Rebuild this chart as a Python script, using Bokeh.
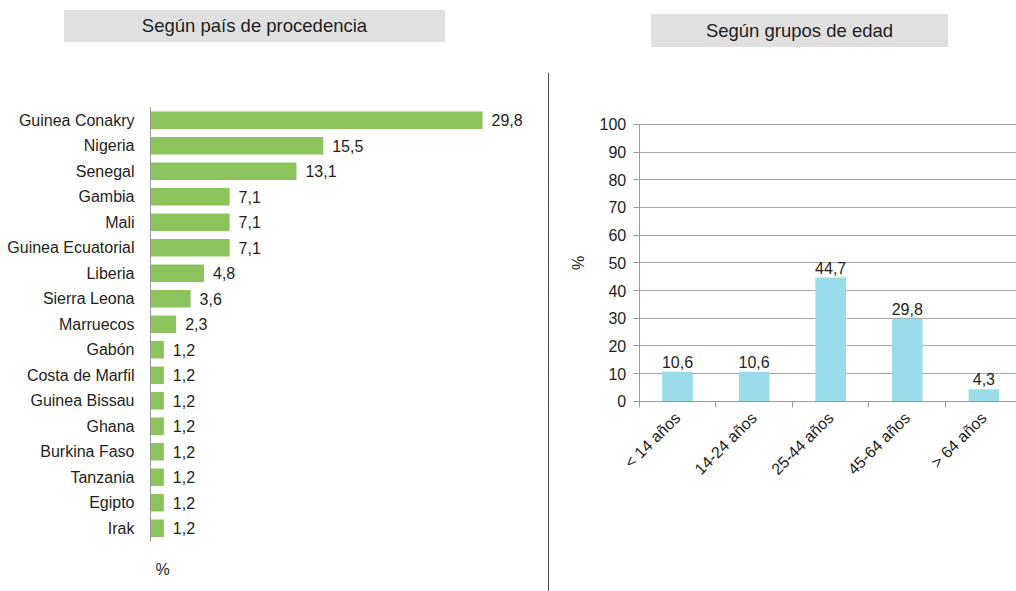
import math
from bokeh.plotting import figure
from bokeh.models import Range1d, FixedTicker, Div, Spacer, BoxAnnotation
from bokeh.layouts import row, column
from bokeh.core.properties import value
from bokeh.embed import file_html
from bokeh.resources import INLINE

# ---------------- data ----------------
left_title = "Según país de procedencia"
right_title = "Según grupos de edad"

countries = ["Guinea Conakry", "Nigeria", "Senegal", "Gambia", "Mali",
             "Guinea Ecuatorial", "Liberia", "Sierra Leona", "Marruecos",
             "Gabón", "Costa de Marfil", "Guinea Bissau", "Ghana",
             "Burkina Faso", "Tanzania", "Egipto", "Irak"]
country_pct = [29.8, 15.5, 13.1, 7.1, 7.1, 7.1, 4.8, 3.6, 2.3,
               1.2, 1.2, 1.2, 1.2, 1.2, 1.2, 1.2, 1.2]

age_groups = ["< 14 años", "14-24 años", "25-44 años", "45-64 años", "> 64 años"]
age_pct = [10.6, 10.6, 44.7, 29.8, 4.3]
age_ticks = [0, 10, 20, 30, 40, 50, 60, 70, 80, 90, 100]

FONT = "Liberation Sans"
TXT = "#1e1e1e"
AX = "#9a9a9a"
FS = "16px"

def fmt(v):
    return f"{v:.1f}".replace(".", ",")

# ---------------- header (title boxes) ----------------
def box(txt, w, h):
    html = (f'<div style="width:{w}px;height:{h}px;line-height:{h}px;'
            f'background:#e0e0e0;text-align:center;'
            f'font-family:\'Liberation Sans\',Arial,sans-serif;'
            f'font-size:18.5px;color:{TXT};white-space:nowrap;">{txt}</div>')
    return Div(text=html, width=w, height=h, margin=0)

hdr = row(
    Spacer(width=64, height=47, margin=0),
    column(Spacer(width=381, height=10, margin=0), box(left_title, 381, 32), spacing=0),
    Spacer(width=206, height=47, margin=0),
    column(Spacer(width=297, height=14, margin=0), box(right_title, 297, 33), spacing=0),
    spacing=0,
)

BODY_H = 544
BORDER_TOP = 60

# ---------------- left chart ----------------
n = len(countries)
ypos = [n - i - 0.5 for i in range(n)]          # row centres, first country on top
left = figure(width=548, height=BODY_H, title=None,
              x_range=Range1d(0, 35), y_range=Range1d(-1.98, n),
              x_axis_location=None,
              min_border_left=150, min_border_right=8,
              min_border_top=BORDER_TOP, min_border_bottom=0,
              outline_line_color=None, toolbar_location=None,
              output_backend="svg")
left.hbar(y=ypos, left=0, right=country_pct, height=0.68,
          fill_color="#8cc35c", line_color=None)
left.text(x=country_pct, y=ypos, text=[fmt(v) for v in country_pct],
          x_offset=9, text_align="left", text_baseline="middle",
          text_font=value(FONT), text_font_size=FS, text_color=TXT)
# axis title "%" under the bars
left.text(x=[0], y=[0], text=["%"], x_offset=5, y_offset=28,
          text_align="left", text_baseline="middle",
          text_font=value(FONT), text_font_size=FS, text_color=TXT)
left.xgrid.visible = False
left.ygrid.visible = False

ya = left.yaxis[0]
ya.ticker = FixedTicker(ticks=ypos)
ya.major_label_overrides = {y: c for y, c in zip(ypos, countries)}
ya.bounds = (0, n)
ya.axis_line_color = AX
ya.major_tick_line_color = None
ya.major_tick_out = 0
ya.major_tick_in = 0
ya.minor_tick_line_color = None
ya.major_label_standoff = 16
ya.major_label_text_font = FONT
ya.major_label_text_font_size = FS
ya.major_label_text_color = TXT

# ---------------- separator ----------------
sep = column(
    Spacer(width=1, height=26, margin=0),
    Div(text="", width=1, height=BODY_H - 26, margin=0,
        styles={"background-color": "#4a4a4a"}),
    spacing=0,
)

# ---------------- right chart ----------------
centers = [i + 0.5 for i in range(len(age_groups))]
X0, X1 = -1.171, 4.926
right = figure(width=467, height=BODY_H, title=None,
               x_range=Range1d(X0, X1), y_range=Range1d(-68.78, 106.14),
               min_border_left=0, min_border_right=0,
               min_border_top=BORDER_TOP, min_border_bottom=0,
               outline_line_color=None, toolbar_location=None,
               output_backend="svg")
right.xgrid.visible = False
right.ygrid.grid_line_color = "#a8a8a8"
right.ygrid.ticker = FixedTicker(ticks=age_ticks)
# keep the grid lines to the right of the value axis
right.add_layout(BoxAnnotation(right=0, fill_color="white", fill_alpha=1.0,
                               line_color=None, level="underlay"))

right.vbar(x=centers, top=age_pct, width=0.4, fill_color="#99dbe8", line_color=None)
right.text(x=centers, y=age_pct, text=[fmt(v) for v in age_pct],
           y_offset=-4, text_align="center", text_baseline="bottom",
           text_font=value(FONT), text_font_size=FS, text_color=TXT)
# value-axis title "%"
right.text(x=[0], y=[(age_ticks[0] + age_ticks[-1]) / 2], text=["%"],
           x_offset=-61, angle=math.pi / 2, text_align="center",
           text_baseline="middle",
           text_font=value(FONT), text_font_size=FS, text_color=TXT)

xa = right.xaxis[0]
xa.fixed_location = 0
xa.bounds = (0, X1)
xa.ticker = FixedTicker(ticks=centers, minor_ticks=list(range(len(age_groups) + 1)))
xa.major_label_overrides = {c: g for c, g in zip(centers, age_groups)}
xa.major_label_orientation = math.pi / 4
xa.axis_line_color = AX
xa.major_tick_line_color = None
xa.major_tick_out = 0
xa.minor_tick_line_color = AX
xa.minor_tick_in = 0
xa.minor_tick_out = 6
xa.major_label_standoff = 8
xa.major_label_text_font = FONT
xa.major_label_text_font_size = FS
xa.major_label_text_color = TXT

yb = right.yaxis[0]
yb.fixed_location = 0
yb.bounds = (0, 100)
yb.ticker = FixedTicker(ticks=age_ticks)
yb.axis_line_color = AX
yb.major_tick_line_color = AX
yb.major_tick_in = 0
yb.major_tick_out = 6
yb.minor_tick_line_color = None
yb.major_label_standoff = 7
yb.major_label_text_font = FONT
yb.major_label_text_font_size = FS
yb.major_label_text_color = TXT

body = row(left, sep, right, spacing=0)
page = column(hdr, body, spacing=0)

open("out.html", "w").write(file_html(page, INLINE))
